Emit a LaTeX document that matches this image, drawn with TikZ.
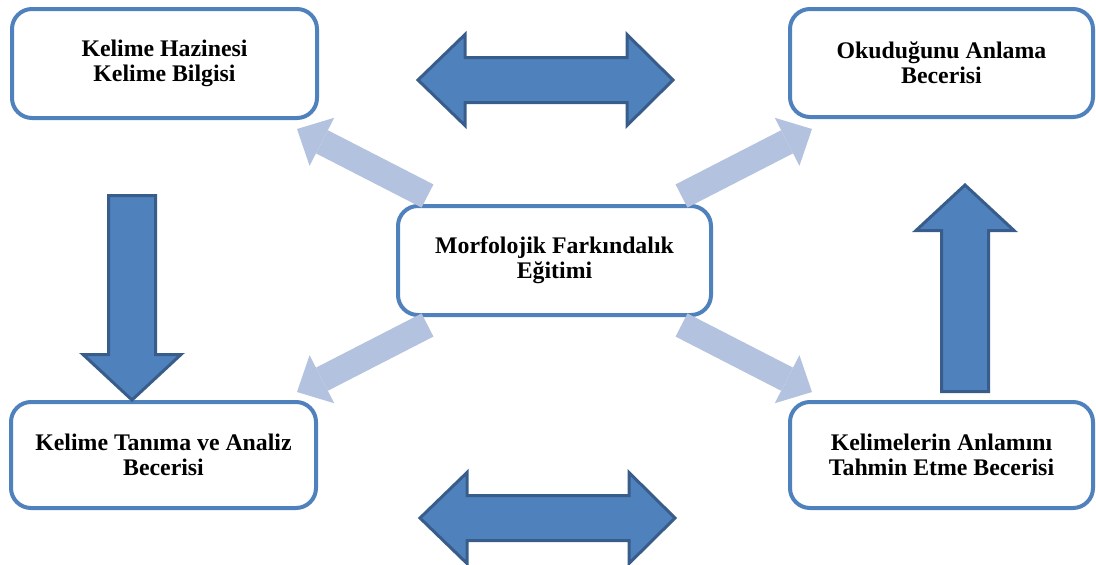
\documentclass[tikz,border=0pt]{standalone}
\usepackage{fontspec}
\setmainfont{Liberation Serif}
\usepackage{tikz}
\usetikzlibrary{arrows.meta}

\definecolor{kutumavi}{RGB}{79,129,189}
\definecolor{koyumavi}{RGB}{56,93,138}
\definecolor{acikmavi}{RGB}{179,194,222}

\begin{document}
\begin{tikzpicture}[x=1pt, y=-1pt,
        kutu/.style={rectangle, rounded corners=20pt, draw=kutumavi, line width=4pt, fill=white,
            align=center, inner sep=0pt, font=\fontsize{23.8}{25}\selectfont\bfseries},
        okbuyuk/.style={draw=koyumavi, fill=kutumavi, line width=3pt},
        okacik/.style={draw=acikmavi, line width=26pt,
            -{Triangle[width=54pt, length=28pt, line width=0pt]}}]
        \useasboundingbox (0,0) rectangle (1096,565);

        % kutular
        \node[kutu, minimum width=305pt, minimum height=109pt] (hazine) at (164.5, 63.5) {Kelime Hazinesi\\Kelime Bilgisi};
        \node[kutu, minimum width=303pt, minimum height=108pt] (okuma) at (941.5, 63) {Okuduğunu Anlama\\Becerisi};
        \node[kutu, minimum width=313pt, minimum height=109pt] (merkez) at (554.5, 260.5) {Morfolojik Farkındalık\\Eğitimi};
        \node[kutu, minimum width=305pt, minimum height=106pt] (tanima) at (163.5, 455) {Kelime Tanıma ve Analiz\\Becerisi};
        \node[kutu, minimum width=303pt, minimum height=106pt] (tahmin) at (941.5, 455) {Kelimelerin Anlamını\\Tahmin Etme Becerisi};

        % buyuk oklar
        \draw[okbuyuk] (418,80) -- (465,34.5) -- (465,57.5) -- (627,57.5) -- (627,34.5) -- (673,80)
            -- (627,125.5) -- (627,102.5) -- (465,102.5) -- (465,125.5) -- cycle;
        \draw[okbuyuk] (420,518) -- (467,472.5) -- (467,495.5) -- (629,495.5) -- (629,472.5) -- (675,518)
            -- (629,563.5) -- (629,540.5) -- (467,540.5) -- (467,563.5) -- cycle;
        \draw[okbuyuk] (108.5,195.5) -- (155.5,195.5) -- (155.5,354.5) -- (181,354.5) -- (132,400)
            -- (83,354.5) -- (108.5,354.5) -- cycle;
        \draw[okbuyuk] (941.5,391.5) -- (988.5,391.5) -- (988.5,230.5) -- (1014,230.5) -- (965,185)
            -- (916,230.5) -- (941.5,230.5) -- cycle;

        % acik oklar
        \coordinate (mSolUst) at (427.5, 196);
        \coordinate (mSagUst) at (681.5, 196);
        \coordinate (mSolAlt) at (427.5, 325);
        \coordinate (mSagAlt) at (681.5, 325);
        \coordinate (hSolUst) at (297, 129);
        \coordinate (hSagUst) at (812, 129);
        \coordinate (hSolAlt) at (297, 392);
        \coordinate (hSagAlt) at (812, 392);

        \draw[okacik] (mSolUst) -- (hSolUst);
        \draw[okacik] (mSagUst) -- (hSagUst);
        \draw[okacik] (mSolAlt) -- (hSolAlt);
        \draw[okacik] (mSagAlt) -- (hSagAlt);
\end{tikzpicture}
\end{document}
